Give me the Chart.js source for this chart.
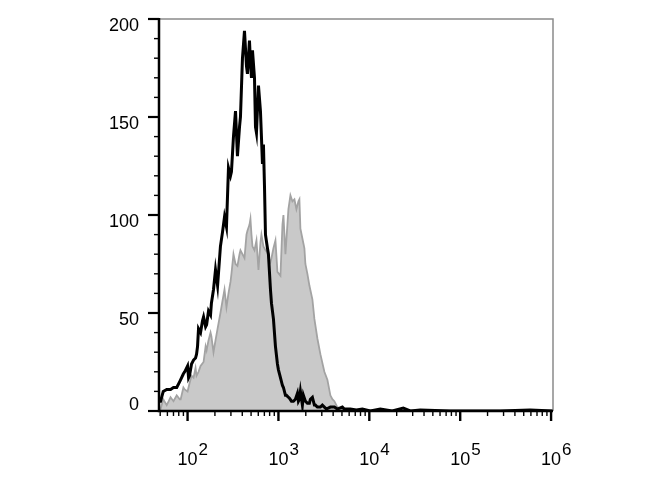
<!DOCTYPE html>
<html>
<head>
<meta charset="utf-8">
<script src="https://cdn.jsdelivr.net/npm/chart.js@4"></script>
<style>
  html, body { margin: 0; padding: 0; background: #fff; }
  #chart { display: block; }
</style>
</head>
<body>
<canvas id="chart" width="670" height="500"></canvas>
<script>
// black histogram: fluorescence intensity and event count
const blackX = [49, 50.5, 54, 59, 62, 65, 70, 76, 82, 84, 90, 93, 100, 102.6, 105, 110.6, 116.4, 122.4, 125.6, 128.8, 132,
	139, 146, 150, 158, 162, 170, 179, 183, 193, 203, 214, 230, 242, 255, 268, 282, 297, 304, 320, 337, 354, 373, 382,
	402, 423, 445, 456, 480, 492, 505, 518, 545, 559, 573, 603, 634, 650, 667, 684, 702, 720, 757, 776, 817, 838, 881,
	927, 975, 1000, 1052, 1107, 1135, 1194, 1225, 1288, 1321, 1390, 1462, 1538, 1617, 1659, 1701, 1745, 1835, 1882,
	1980, 2083, 2191, 2247, 2364, 2487, 2551, 2683, 2894, 3044, 3202, 3369, 3728, 4125, 4450, 5050, 5312, 6183, 7197,
	8377, 10256, 13210, 17890, 23640, 28220, 36350, 77620, 275300, 587500, 1052000];
const blackY = [5, 5, 10, 11, 11, 11, 12, 12, 15, 16, 19, 20, 23, 17, 18, 24, 26, 27, 29, 33, 42,
	40, 46, 48, 43, 44, 51, 49, 55, 62, 72, 64, 84, 91, 99, 94, 124, 120, 122, 140, 153, 130, 145, 150,
	180, 194, 176, 172, 189, 178, 170, 184, 170, 145, 142, 166, 153, 140, 126, 136, 115, 90, 83, 80, 62, 55, 47,
	33, 24, 21, 17, 13, 12, 8, 8, 7, 6.5, 5, 5, 6, 9, 5, 6, 10, 3, 8,
	5, 4, 4, 6, 7, 3, 3, 2, 2, 3, 2, 1, 2, 2, 1, 2, 1, 1, 0.5,
	1, 0, 1, 0, 1.5, 0, 0.5, 0, 0, 0.5, 0];

// grey (filled) histogram
const greyX = [49, 50.5, 54, 59, 62, 65, 70, 76, 82, 84, 90, 93, 100, 105, 110.6, 116.4, 122.4, 125.6, 132, 139,
	150, 158, 162, 170, 179, 183, 193, 203, 214, 230, 242, 255, 268, 282, 297, 304, 320, 337, 354, 373, 382, 402,
	423, 445, 456, 480, 492, 505, 518, 545, 573, 603, 634, 650, 684, 720, 757, 776, 817, 838, 881, 927, 975, 1052,
	1107, 1135, 1194, 1288, 1355, 1425, 1499, 1577, 1659, 1701, 1745, 1835, 1931, 1980, 2083, 2191, 2364, 2487,
	2683, 2894, 3202, 3455, 3728, 3922, 4125, 4450, 5050, 6183, 8377, 13210, 1052000];
const greyY = [1, 1, 6, 3, 5, 7, 5, 8, 6, 6, 12, 11, 10, 14, 18, 17, 22, 18, 20, 23,
	25, 33, 31, 36, 40, 38, 30, 36, 42, 50, 56, 62, 53, 60, 66, 70, 80, 75, 74, 80, 82, 80,
	78, 90, 92, 95, 98, 90, 84, 82, 87, 72, 86, 90, 84, 82, 81, 78, 76, 78, 83, 87, 71, 69,
	95, 100, 80, 103, 110, 107, 108, 103, 107, 108, 93, 88, 83, 75, 70, 64, 57, 47,
	37, 29, 20, 16, 8, 6, 5, 2, 1, 0.5, 0.3, 0, 0];

const xMin = 48.5;
const xMax = 1050000;
const xDecades = [2, 3, 4, 5, 6];
const yTicks = [0, 50, 100, 150, 200];

function toPoints(xs, ys) {
	return xs.map(function (x, i) { return { x: x, y: ys[i] }; });
}

const facsAxes = {
	id: 'facsAxes',
	afterDraw: function (chart) {
		const ctx = chart.ctx;
		const area = chart.chartArea;
		const xs = chart.scales.x;
		const ys = chart.scales.y;
		ctx.save();

		// frame: grey top/right, black left/bottom
		ctx.strokeStyle = '#8a8a8a';
		ctx.lineWidth = 1.5;
		ctx.beginPath();
		ctx.moveTo(area.left, area.top);
		ctx.lineTo(area.right, area.top);
		ctx.lineTo(area.right, area.bottom);
		ctx.stroke();

		ctx.strokeStyle = '#000';
		ctx.lineWidth = 2.5;
		ctx.beginPath();
		ctx.moveTo(area.left, area.top - 1);
		ctx.lineTo(area.left, area.bottom);
		ctx.lineTo(area.right, area.bottom);
		ctx.stroke();

		// y ticks every 10, labelled every 50
		for (let v = 0; v <= 200; v += 10) {
			const py = ys.getPixelForValue(v);
			const major = v % 50 === 0;
			ctx.lineWidth = major ? 2.2 : 1.4;
			ctx.beginPath();
			ctx.moveTo(area.left - (major ? 11 : 5), py);
			ctx.lineTo(area.left, py);
			ctx.stroke();
		}
		ctx.fillStyle = '#000';
		ctx.font = '18px "Liberation Sans", Arial, sans-serif';
		ctx.textAlign = 'right';
		ctx.textBaseline = 'middle';
		yTicks.forEach(function (v) {
			const py = Math.min(ys.getPixelForValue(v) + 7, area.bottom - 6);
			ctx.fillText(String(v), area.left - 20, py);
		});

		// x log ticks
		for (let d = 1; d <= 6; d++) {
			for (let m = 1; m <= 9; m++) {
				const v = m * Math.pow(10, d);
				if (v < xMin || v > xMax) continue;
				const px = xs.getPixelForValue(v);
				const major = m === 1;
				ctx.lineWidth = major ? 2.4 : 1.4;
				ctx.beginPath();
				ctx.moveTo(px, area.bottom);
				ctx.lineTo(px, area.bottom + (major ? 10 : 5));
				ctx.stroke();
			}
		}

		// decade labels 10^n
		xDecades.forEach(function (e) {
			const px = xs.getPixelForValue(Math.pow(10, e));
			ctx.font = '18px "Liberation Sans", Arial, sans-serif';
			ctx.textAlign = 'center';
			ctx.textBaseline = 'alphabetic';
			ctx.fillText('10', px, 465);
			const w = ctx.measureText('10').width;
			ctx.font = '17px "Liberation Sans", Arial, sans-serif';
			ctx.textAlign = 'left';
			ctx.fillText(String(e), px + w / 2 + 1, 455);
		});

		ctx.restore();
	}
};

const ctx = document.querySelector('#chart').getContext('2d');

const data = {
	datasets: [{
		label: 'black',
		data: toPoints(blackX, blackY),
		borderColor: '#000',
		borderWidth: 3,
		pointRadius: 0,
		fill: false,
		order: 0
	}, {
		label: 'grey',
		data: toPoints(greyX, greyY),
		borderColor: '#a3a3a3',
		backgroundColor: '#c9c9c9',
		borderWidth: 1.8,
		pointRadius: 0,
		fill: 'origin',
		order: 1
	}]
};

const config = {
	type: 'line',
	data: data,
	options: {
		responsive: false,
		animation: false,
		layout: { padding: { left: 159, right: 117, top: 19, bottom: 89 } },
		plugins: {
			legend: { display: false },
			tooltip: { enabled: false }
		},
		elements: { line: { tension: 0 } },
		scales: {
			x: { type: 'logarithmic', min: xMin, max: xMax, display: false },
			y: { type: 'linear', min: 0, max: 200, display: false }
		}
	},
	plugins: [facsAxes]
};

const myChart = new Chart(ctx, config);
</script>
</body>
</html>
